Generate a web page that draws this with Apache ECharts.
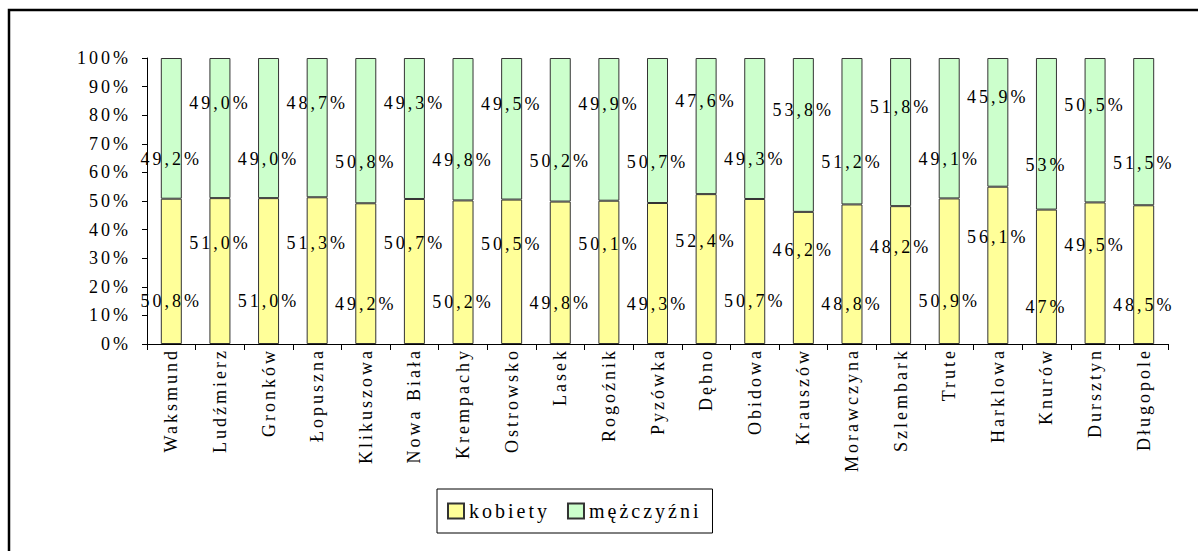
<!DOCTYPE html>
<html>
<head>
<meta charset="utf-8">
<script src="https://cdn.jsdelivr.net/npm/echarts@6/dist/echarts.min.js"></script>
<style>
  html, body { margin: 0; padding: 0; background: #fff; }
  #chart { width: 1198px; height: 551px; }
  /* tekst w oryginale jest rozstrzelony */
  #chart svg text { letter-spacing: 3px; }
</style>
</head>
<body>
<div id="chart"></div>
<script>
// gminy / sołectwa
var categories = ['Waksmund', 'Ludźmierz', 'Gronków', 'Łopuszna', 'Klikuszowa', 'Nowa Biała',
  'Krempachy', 'Ostrowsko', 'Lasek', 'Rogoźnik', 'Pyzówka', 'Dębno', 'Obidowa', 'Krauszów',
  'Morawczyna', 'Szlembark', 'Trute', 'Harklowa', 'Knurów', 'Dursztyn', 'Długopole'];

// wartości tak jak na etykietach
var kobiety = ['50,8', '51,0', '51,0', '51,3', '49,2', '50,7', '50,2', '50,5', '49,8', '50,1', '49,3',
  '52,4', '50,7', '46,2', '48,8', '48,2', '50,9', '56,1', '47', '49,5', '48,5'];
var mezczyzni = ['49,2', '49,0', '49,0', '48,7', '50,8', '49,3', '49,8', '49,5', '50,2', '49,9', '50,7',
  '47,6', '49,3', '53,8', '51,2', '51,8', '49,1', '45,9', '53', '50,5', '51,5'];

var yTicks = ['0%', '10%', '20%', '30%', '40%', '50%', '60%', '70%', '80%', '90%', '100%'];

function num(s) { return parseFloat(s.replace(',', '.')); }

// wykres 100% skumulowany - normalizacja do sumy
function buildData(src, other, offEven, offOdd) {
  return src.map(function (s, i) {
    var a = num(s), b = num(other[i]);
    return {
      value: a / (a + b) * 100,
      label: { offset: [0, i % 2 === 0 ? offEven : offOdd] }
    };
  });
}

var FONT = 'Liberation Serif';
var myChart = echarts.init(document.getElementById('chart'), null, { renderer: 'svg' });

var labelStyle = function (src) {
  return {
    show: true,
    position: 'inside',
    color: '#000',
    fontFamily: FONT,
    fontSize: 18,
    formatter: function (p) { return src[p.dataIndex] + '%'; }
  };
};

var option = {
  animation: false,
  backgroundColor: '#fff',
  graphic: [{
    type: 'rect',
    shape: { x: 9, y: 10, width: 1400, height: 800 },
    style: { fill: 'none', stroke: '#000', lineWidth: 2.5 },
    silent: true
  }],
  grid: { left: 147, right: 30, top: 58, bottom: 207 },
  legend: {
    left: 437,
    top: 489,
    orient: 'horizontal',
    icon: 'rect',
    borderColor: '#000',
    borderWidth: 1,
    padding: [12, 38, 12, 10],
    itemGap: 38,
    itemWidth: 16,
    itemHeight: 15,
    textStyle: { fontFamily: FONT, fontSize: 20, color: '#000' },
    data: ['kobiety', 'mężczyźni']
  },
  xAxis: {
    type: 'category',
    data: categories,
    axisLine: { lineStyle: { color: '#000', width: 1 } },
    axisTick: { show: true, length: 6, lineStyle: { color: '#000' } },
    axisLabel: {
      rotate: 90,
      interval: 0,
      margin: 4,
      color: '#000',
      fontFamily: FONT,
      fontSize: 18
    }
  },
  yAxis: {
    type: 'value',
    min: 0,
    max: 100,
    interval: 10,
    splitLine: { show: false },
    axisLine: { show: true, lineStyle: { color: '#000', width: 1 } },
    axisTick: { show: true, length: 5, lineStyle: { color: '#000' } },
    axisLabel: {
      margin: 16,
      color: '#000',
      fontFamily: FONT,
      fontSize: 18,
      formatter: function (v) { return yTicks[Math.round(v / 10)]; }
    }
  },
  series: [{
    name: 'kobiety',
    type: 'bar',
    stack: 'razem',
    barWidth: 21,
    itemStyle: { color: '#ffff99', borderColor: '#333', borderWidth: 1 },
    label: labelStyle(kobiety),
    data: buildData(kobiety, mezczyzni, 30, -28)
  }, {
    name: 'mężczyźni',
    type: 'bar',
    stack: 'razem',
    barWidth: 21,
    itemStyle: { color: '#ccffcc', borderColor: '#333', borderWidth: 1 },
    label: labelStyle(mezczyzni),
    data: buildData(mezczyzni, kobiety, 31, -25)
  }]
};

myChart.setOption(option);
</script>
</body>
</html>
